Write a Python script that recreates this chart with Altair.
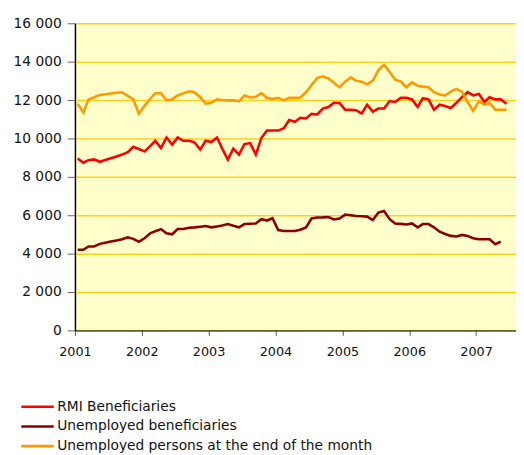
import altair as alt
import pandas as pd

series_names = [
    "RMI Beneficiaries",
    "Unemployed beneficiaries",
    "Unemployed persons at the end of the month",
]
series_colors = ["#FF0000", "#8B0000", "#FF9900"]

# Monthly values, starting January 2001
rmi = [
    8960, 8735, 8870, 8910, 8785, 8880, 8970, 9065, 9160, 9280, 9570, 9450,
    9330, 9600, 9880, 9500, 10050, 9680, 10050, 9880, 9880, 9800, 9420, 9880,
    9810, 10050, 9480, 8900, 9470, 9160, 9710, 9760, 9160, 10020, 10410, 10410,
    10410, 10530, 10960, 10870, 11080, 11040, 11280, 11250, 11560, 11640, 11860, 11850,
    11500, 11500, 11470, 11300, 11760, 11400, 11560, 11560, 11950, 11900, 12120, 12120,
    12035, 11640, 12100, 12035, 11500, 11760, 11690, 11590, 11860, 12150, 12410, 12240,
    12320, 11900, 12150, 12035, 12035, 11810,
]
unemployed_beneficiaries = [
    4205, 4205, 4375, 4375, 4510, 4570, 4630, 4690, 4750, 4855, 4770, 4615,
    4800, 5060, 5170, 5280, 5060, 5010, 5280, 5280, 5350, 5370, 5400, 5435,
    5370, 5420, 5470, 5540, 5450, 5370, 5540, 5560, 5575, 5795, 5725, 5845,
    5230, 5180, 5180, 5180, 5250, 5370, 5830, 5880, 5890, 5910, 5780, 5830,
    6035, 6000, 5965, 5950, 5930, 5745, 6140, 6220, 5795, 5575, 5550, 5520,
    5575, 5370, 5540, 5540, 5370, 5145, 5025, 4925, 4890, 4975, 4925, 4800,
    4750, 4750, 4750, 4495, 4630,
]
unemployed_persons = [
    11800, 11350, 12035, 12150, 12270, 12300, 12340, 12380, 12410, 12220, 12035, 11300,
    11700, 12070, 12360, 12360, 11985, 12035, 12240, 12350, 12460, 12410, 12150, 11810,
    11860, 12035, 12000, 11985, 11985, 11935, 12240, 12135, 12170, 12360, 12120, 12050,
    12120, 11985, 12120, 12120, 12120, 12410, 12780, 13145, 13230, 13130, 12900, 12670,
    12960, 13180, 13010, 12960, 12820, 13010, 13550, 13830, 13470, 13060, 12960, 12670,
    12920, 12750, 12700, 12670, 12410, 12290, 12240, 12440, 12580, 12440, 11900, 11430,
    11930, 11760, 11850, 11500, 11500, 11500,
]

y_ticks = [0, 2000, 4000, 6000, 8000, 10000, 12000, 14000, 16000]
x_years = [2001, 2002, 2003, 2004, 2005, 2006, 2007]

frames = []
for name, vals in zip(series_names, [rmi, unemployed_beneficiaries, unemployed_persons]):
    dates = pd.date_range("2001-01-01", periods=len(vals), freq="MS") + pd.Timedelta(days=15)
    frames.append(pd.DataFrame({"date": dates.strftime("%Y-%m-%d"), "value": vals, "series": name}))
df = pd.concat(frames, ignore_index=True)
df["order"] = df["series"].map({n: i for i, n in enumerate(series_names)})

FONT = "DejaVu Sans"

chart = (
    alt.Chart(df)
    .mark_line(strokeWidth=2.6, strokeJoin="miter")
    .encode(
        x=alt.X(
            "date:T",
            scale=alt.Scale(
                domain=[
                    alt.DateTime(year=2001, month=1, date=1),
                    alt.DateTime(year=2007, month=8, date=7),
                ]
            ),
            axis=alt.Axis(
                values=[alt.DateTime(year=y, month=1, date=1) for y in x_years],
                format="%Y",
                title=None,
                grid=False,
                labelFlush=False,
                tickSize=5,
                tickColor="#555555",
                domainColor="#000000",
                domainWidth=1,
                labelPadding=10,
                labelFontSize=13,
                labelFont=FONT,
                labelColor="#111111",
            ),
        ),
        y=alt.Y(
            "value:Q",
            scale=alt.Scale(domain=[0, 16000], nice=False),
            axis=alt.Axis(
                values=y_ticks,
                labelExpr="replace(format(datum.value, ',d'), ',', ' ')",
                title=None,
                tickSize=8,
                tickColor="#666666",
                domainColor="#000000",
                domainWidth=1.5,
                gridColor="#FFD21A",
                gridWidth=1.5,
                labelPadding=6,
                labelFontSize=14,
                labelFont=FONT,
                labelColor="#111111",
            ),
        ),
        color=alt.Color(
            "series:N",
            scale=alt.Scale(domain=series_names, range=series_colors),
            legend=alt.Legend(
                orient="none",
                legendX=-47.5,
                legendY=380,
                title=None,
                symbolType="M-2.06,0H2.06",
                symbolSize=256,
                symbolStrokeWidth=2.6,
                symbolFillColor="transparent",
                labelFontSize=14,
                labelFont=FONT,
                labelColor="#111111",
                labelOffset=10.5,
                rowPadding=3,
                direction="vertical",
                labelLimit=400,
            ),
        ),
        order=alt.Order("order:Q"),
    )
    .properties(
        width=448,
        height=312,
        autosize=alt.AutoSizeParams(type="none"),
        padding={"left": 68, "top": 12, "right": 0, "bottom": 123},
    )
    .configure_view(fill="#FFFFCC", strokeWidth=0)
)

chart.save("out.html", embed_options={"renderer": "svg", "actions": False})
